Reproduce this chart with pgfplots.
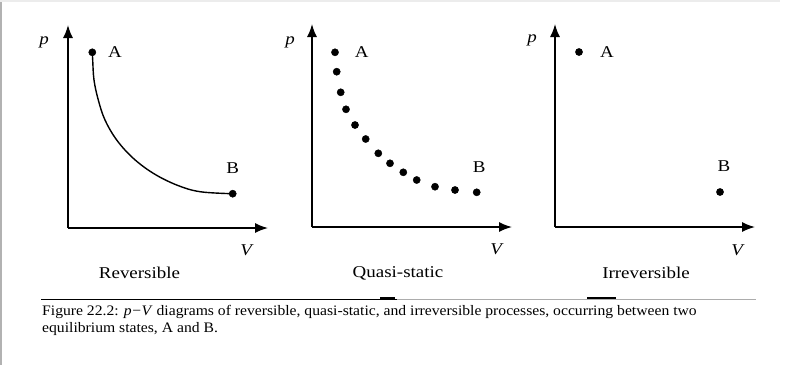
\documentclass[border=0pt]{standalone}
\usepackage{fontspec}
\setmainfont{Liberation Serif}
\newfontfamily\labfont[FakeStretch=1.15]{Liberation Serif}
\newfontfamily\capfont[FakeStretch=1.08,Ligatures=TeX]{Liberation Serif}
\usepackage{pgfplots}
\pgfplotsset{compat=1.18}
\usetikzlibrary{arrows.meta}
\tikzset{lab/.style={font=\labfont\fontsize{16.5}{18}\selectfont}}
\begin{document}
\begin{tikzpicture}[x=1pt,y=1pt]
\path[use as bounding box] (0,0) rectangle (786,-365);
\fill[white] (0,0) rectangle (786,-365);
\draw[gray!60,line width=2pt] (1,0) -- (1,-365);
\draw[gray!15,line width=1.5pt] (0,-0.75) -- (780,-0.75);
\pgfplotsset{panel/.style={x=1pt,y=1pt,xmin=0,xmax=200,ymin=0,ymax=203,
  axis lines=left,
  axis line style={line width=1.5pt,-{Latex[length=13pt,width=10pt]}},
  xtick=\empty,ytick=\empty,clip=false,anchor=origin}}
% Panel 1: Reversible
\begin{axis}[panel,at={(68,-228)}]
\addplot[black,smooth,tension=0.6,line width=1.4pt] coordinates {(24.3,175.7) (24.7,168) (26,148) (30.3,128) (37,108) (48.7,88) (65.3,69.7) (85.3,54.7) (108.7,43) (132,36.3) (164.7,34.3)};
\addplot[black,only marks,mark=*,mark size=3.6pt] coordinates {(24.3,175.7) (164.7,34.3)};
\node[lab] at (axis cs:47,176) {A};
\node[lab] at (axis cs:164.7,60.3) {B};
\node[lab] at (axis cs:-24,186) {\textit{p}};
\node[lab] at (axis cs:179,-22) {\textit{V}};
\node[lab] at (axis cs:71.5,-45) {Reversible};
\end{axis}
% Panel 2: Quasi-static
\begin{axis}[panel,at={(312,-227)}]
\addplot[black,only marks,mark=*,mark size=3.6pt] coordinates {(23,174.7) (24.7,155.3) (28.7,134.7) (34,117.7) (43,102) (53.7,88) (66.3,73.7) (78,63.7) (91.3,54.7) (104.7,47) (123,40.3) (143,37) (164.7,34.7)};
\node[lab] at (axis cs:49.7,174.7) {A};
\node[lab] at (axis cs:167.3,60.3) {B};
\node[lab] at (axis cs:-22,185) {\textit{p}};
\node[lab] at (axis cs:185,-22) {\textit{V}};
\node[lab] at (axis cs:86,-46) {Quasi-static};
\end{axis}
% Panel 3: Irreversible
\begin{axis}[panel,at={(555,-227)}]
\addplot[black,only marks,mark=*,mark size=3.6pt] coordinates {(24,175) (165,35)};
\node[lab] at (axis cs:52,175) {A};
\node[lab] at (axis cs:169,61) {B};
\node[lab] at (axis cs:-23,187) {\textit{p}};
\node[lab] at (axis cs:183,-23) {\textit{V}};
\node[lab] at (axis cs:91,-46) {Irreversible};
\end{axis}
% rule and caption
\draw[black,line width=1pt] (41,-299) -- (397,-299);
\draw[gray!65,line width=1pt] (397,-299) -- (756,-299);
\draw[black,line width=1.5pt] (380,-298) -- (395,-298);
\draw[black,line width=1.5pt] (587,-298) -- (616,-298);
\node[anchor=base west,inner sep=0pt,font=\capfont\fontsize{14.5}{17}\selectfont] at (42,-315) {Figure 22.2: \textit{p}\kern0.5pt−\kern0.5pt\textit{V} diagrams of reversible, quasi-static, and irreversible processes, occurring between two};
\node[anchor=base west,inner sep=0pt,font=\capfont\fontsize{14.5}{17}\selectfont] at (42,-332) {equilibrium states, A and B.};
\end{tikzpicture}
\end{document}
